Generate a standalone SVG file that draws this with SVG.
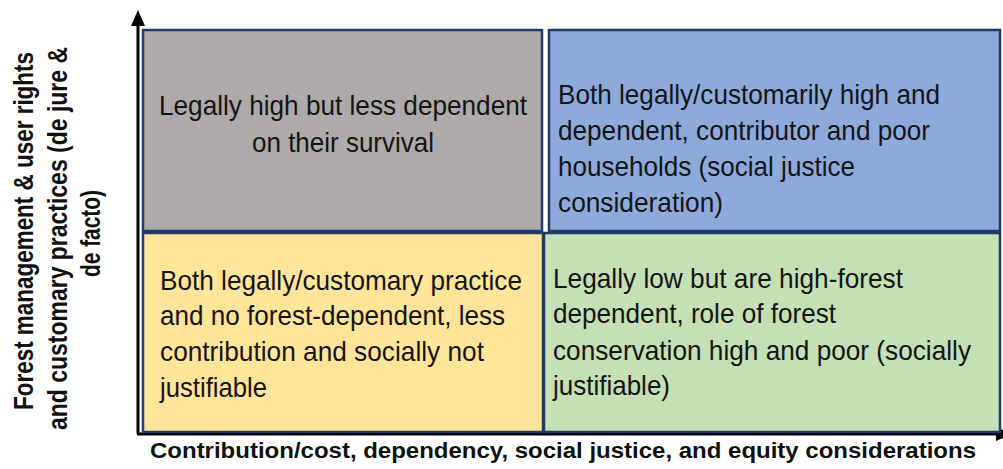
<svg xmlns="http://www.w3.org/2000/svg" width="1003" height="469" viewBox="0 0 1003 469">
  <style>
    .box { stroke: #233a66; stroke-width: 2.5; }
    .t { font-family: "Liberation Sans", Arial, sans-serif; font-size: 28px; fill: #141414; }
    .lab { font-family: "Liberation Sans", Arial, sans-serif; font-weight: bold; fill: #111; }
  </style>
  <rect width="1003" height="469" fill="#ffffff"/>
  <g id="axes">
    <line x1="138" y1="434" x2="138" y2="24" stroke="#000" stroke-width="3"/>
    <polygon points="138,10 131,26 145,26" fill="#000"/>
    <line x1="137" y1="434" x2="1000" y2="434" stroke="#000" stroke-width="3"/>
    <polygon points="996,427 1012,434 996,441" fill="#000"/>
  </g>
  <g id="q-top-left">
    <rect class="box" x="143" y="30" width="399" height="201" fill="#aeaaaa"/>
    <text class="t" text-anchor="middle" x="343" y="115" textLength="368" lengthAdjust="spacingAndGlyphs">Legally high but less dependent</text>
    <text class="t" text-anchor="middle" x="343" y="152" textLength="182" lengthAdjust="spacingAndGlyphs">on their survival</text>
  </g>
  <g id="q-top-right">
    <rect class="box" x="549" y="30" width="451" height="201" fill="#8eaadb"/>
    <text class="t" x="558" y="104" textLength="382" lengthAdjust="spacingAndGlyphs">Both legally/customarily high and</text>
    <text class="t" x="558" y="140" textLength="372" lengthAdjust="spacingAndGlyphs">dependent, contributor and poor</text>
    <text class="t" x="558" y="176" textLength="297" lengthAdjust="spacingAndGlyphs">households (social justice</text>
    <text class="t" x="558" y="212" textLength="165" lengthAdjust="spacingAndGlyphs">consideration)</text>
  </g>
  <g id="q-bottom-left">
    <rect class="box" x="143" y="233" width="400" height="199" fill="#ffe599"/>
    <text class="t" x="160" y="290" textLength="362" lengthAdjust="spacingAndGlyphs">Both legally/customary practice</text>
    <text class="t" x="160" y="325" textLength="345" lengthAdjust="spacingAndGlyphs">and no forest-dependent, less</text>
    <text class="t" x="160" y="361" textLength="324" lengthAdjust="spacingAndGlyphs">contribution and socially not</text>
    <text class="t" x="160" y="397" textLength="107" lengthAdjust="spacingAndGlyphs">justifiable</text>
  </g>
  <g id="q-bottom-right">
    <rect class="box" x="544" y="233" width="456" height="199" fill="#c5e0b4"/>
    <text class="t" x="553" y="288" textLength="350" lengthAdjust="spacingAndGlyphs">Legally low but are high-forest</text>
    <text class="t" x="553" y="323" textLength="283" lengthAdjust="spacingAndGlyphs">dependent, role of forest</text>
    <text class="t" x="553" y="360" textLength="418" lengthAdjust="spacingAndGlyphs">conservation high and poor (socially</text>
    <text class="t" x="553" y="395" textLength="117" lengthAdjust="spacingAndGlyphs">justifiable)</text>
  </g>
  <g id="x-label">
    <text class="lab" font-size="22" x="150" y="458" textLength="826" lengthAdjust="spacingAndGlyphs">Contribution/cost, dependency, social justice, and equity considerations</text>
  </g>
  <g id="y-label">
    <text class="lab" font-size="22.5" transform="translate(33,410) rotate(-90) scale(1,1.25)" textLength="358" lengthAdjust="spacingAndGlyphs">Forest management &amp; user rights</text>
    <text class="lab" font-size="22.5" transform="translate(67,430) rotate(-90) scale(1,1.25)" textLength="383" lengthAdjust="spacingAndGlyphs">and customary practices (de jure &amp;</text>
    <text class="lab" font-size="22.5" transform="translate(100,277) rotate(-90) scale(1,1.25)" textLength="87" lengthAdjust="spacingAndGlyphs">de facto)</text>
  </g>
</svg>
